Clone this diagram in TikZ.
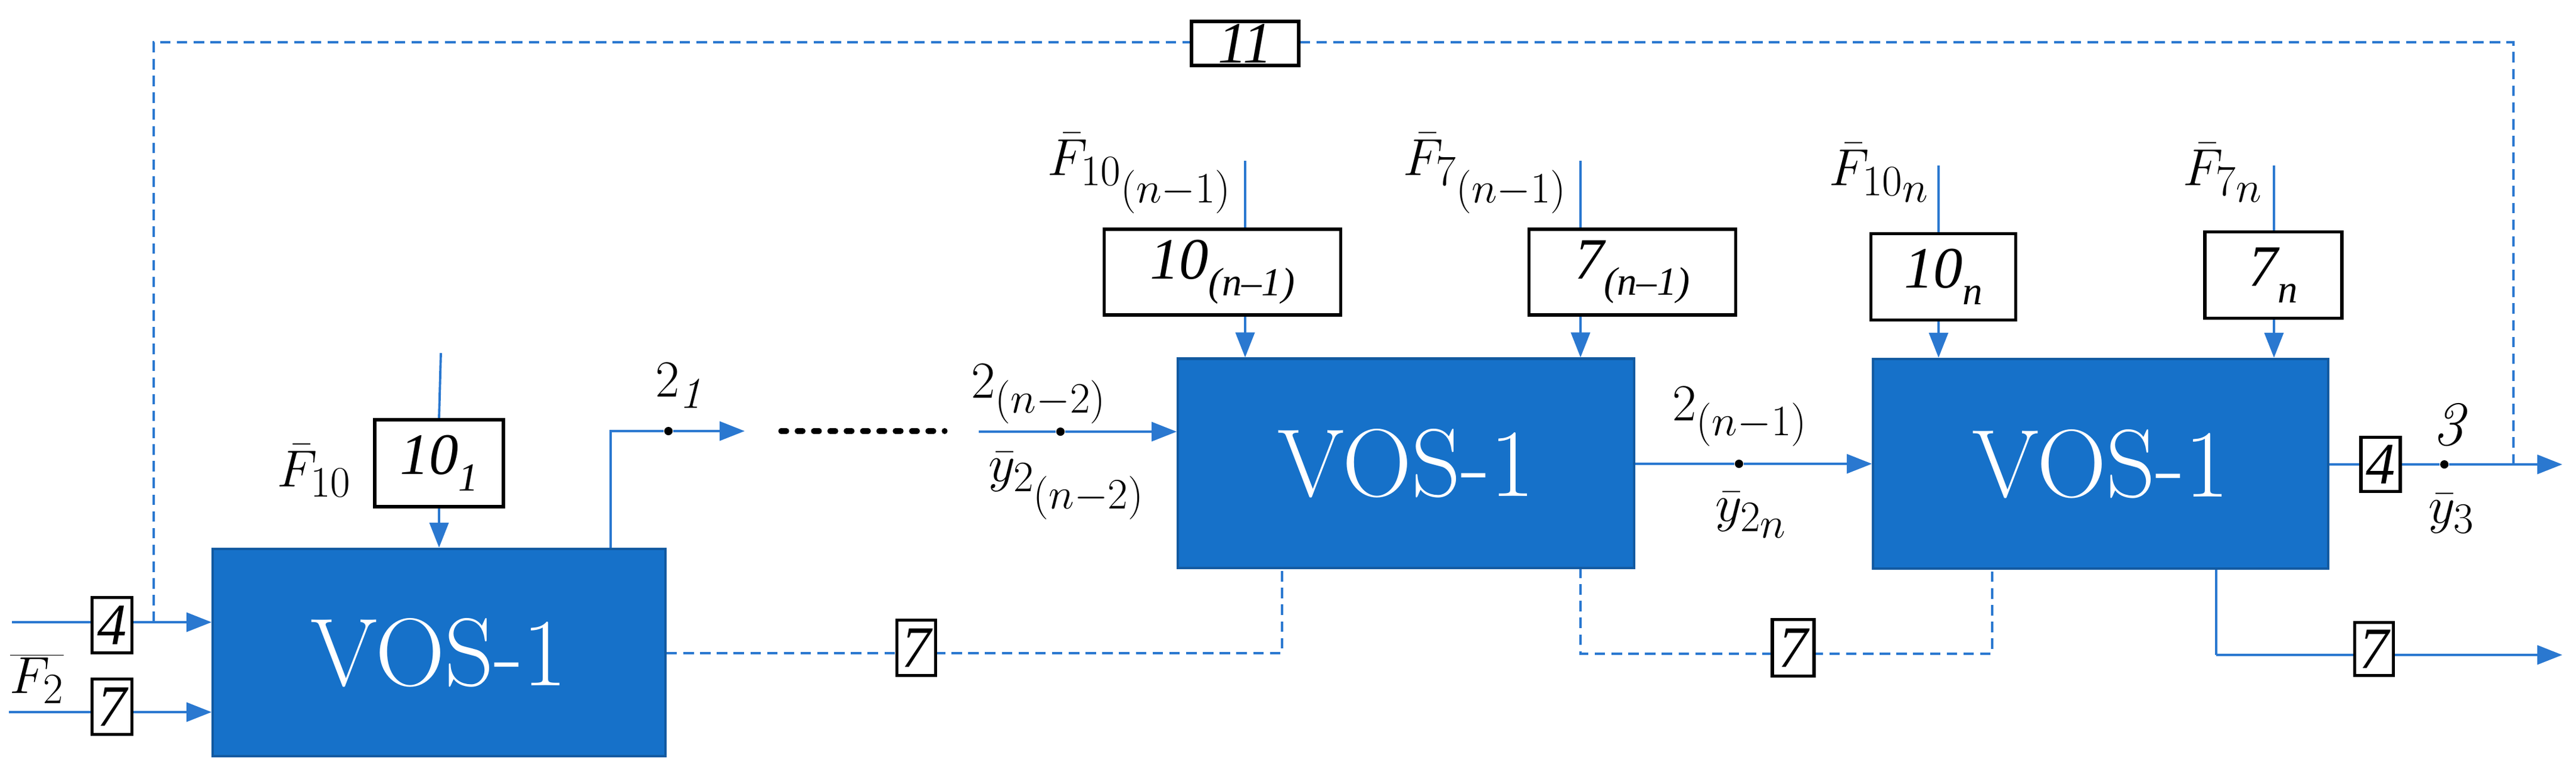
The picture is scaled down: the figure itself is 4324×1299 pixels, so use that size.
\documentclass[tikz,border=0pt]{standalone}
\usepackage{fontspec}
\newfontfamily\tagfont{Liberation Serif}
\usetikzlibrary{arrows.meta,backgrounds}
\definecolor{vblue}{HTML}{1671C9}
\definecolor{lblue}{HTML}{2A78D0}
\newcommand{\tsub}[1]{\raisebox{-0.28em}{\fontsize{19}{20}\selectfont #1}}
\begin{document}
\begin{tikzpicture}[x=0.01cm,y=-0.01cm,
  vos/.style={draw=vblue!80!black,line width=1.2pt,fill=vblue,text=white,inner sep=0pt,font=\fontsize{46}{50}\selectfont},
  tag/.style={draw=black,line width=1.6pt,fill=white,inner sep=0pt,font=\fontsize{28}{30}\selectfont\tagfont\itshape},
  lab/.style={inner sep=0pt,font=\fontsize{30}{32}\selectfont},
  fl/.style={draw=lblue,line width=1.1pt},
  arr/.style={fl,-{Triangle[length=0.42cm,width=0.32cm]}},
  dsh/.style={fl,dashed,dash pattern=on 5pt off 3pt},
  dot/.style={circle,fill=black,inner sep=0pt,minimum size=0.14cm}]
\useasboundingbox (0,0) rectangle (4324,1299);
% boxes
\node[vos,minimum width=7.59cm,minimum height=3.48cm] (v1) at (737,1096) {VOS-1};
\node[vos,minimum width=7.65cm,minimum height=3.51cm] (v2) at (2360,778) {VOS-1};
\node[vos,minimum width=7.63cm,minimum height=3.52cm] (v3) at (3526,779) {VOS-1};
% tags
\node[tag,minimum width=0.67cm,minimum height=0.93cm] (t4a) at (188,1050) {4};
\node[tag,minimum width=0.67cm,minimum height=0.93cm] (t7a) at (188,1187) {7};
\node[tag,minimum width=2.16cm,minimum height=1.46cm] (t101) at (737,778) {10\tsub{1}};
\node[tag,minimum width=0.65cm,minimum height=0.93cm] (t7b) at (1538,1088) {7};
\node[tag,minimum width=0.70cm,minimum height=0.95cm] (t7c) at (3010,1088) {7};
\node[tag,minimum width=3.97cm,minimum height=1.44cm] (t10m) at (2052,457) {10\tsub{(n–1)}};
\node[tag,minimum width=3.47cm,minimum height=1.44cm] (t7m) at (2740,457) {7\tsub{(n–1)}};
\node[tag,minimum width=2.43cm,minimum height=1.45cm] (t10n) at (3262,465) {10\tsub{n}};
\node[tag,minimum width=2.30cm,minimum height=1.45cm] (t7n) at (3816,462) {7\tsub{n}};
\node[tag,minimum width=0.66cm,minimum height=0.91cm] (t4b) at (3996,780) {4};
\node[tag,minimum width=0.65cm,minimum height=0.89cm] (t7d) at (3985,1090) {7};
\node[tag,minimum width=1.80cm,minimum height=0.74cm] (t11) at (2090,73) {11};
% dots
\node[dot] (d1) at (1122,724) {};
\node[dot] (d2) at (1780,725) {};
\node[dot] (d3) at (2919,779) {};
\node[dot] (d4) at (4103,780) {};
% coordinates
\coordinate (in4) at (20,1045);
\coordinate (in7) at (15,1196);
\coordinate (fb) at (258,1045);
\coordinate (fbt) at (258,71);
\coordinate (frt) at (4219,71);
\coordinate (fr) at (4219,780);
\coordinate (o3) at (4301,780);
\coordinate (o7) at (4301,1100);
\coordinate (s101) at (740,593);
\coordinate (s10m) at (2090,270);
\coordinate (s7m) at (2653,270);
\coordinate (s10n) at (3254,278);
\coordinate (s7n) at (3817,278);
\coordinate (up1) at (1025,724);
\coordinate (e1) at (1250,724);
\coordinate (dots1) at (1311,724);
\coordinate (dots2) at (1586,724);
\coordinate (st2) at (1643,725);
\begin{scope}[on background layer]
\draw[arr] (in4) -- (v1.west |- in4);
\draw[arr] (in7) -- (v1.west |- in7);
\draw[dsh] (fb) -- (fbt) -- (frt) -- (fr);
\draw[fl] (s101) -- (t101.north);
\draw[arr] (t101.south) -- (v1.north -| t101);
\draw[fl] (v1.north -| up1) -- (up1) -- (d1);
\draw[arr] (d1) -- (e1);
\draw[black,line width=2.6pt,dash pattern=on 2.6pt off 5.2pt,line cap=round] (dots1) -- (dots2);
\draw[fl] (st2) -- (d2);
\draw[arr] (d2) -- (v2.west |- d2);
\draw[fl] (s10m) -- (s10m |- t10m.north);
\draw[arr] (s10m |- t10m.south) -- (s10m |- v2.north);
\draw[fl] (s7m) -- (s7m |- t7m.north);
\draw[arr] (s7m |- t7m.south) -- (s7m |- v2.north);
\draw[fl] (v2.east |- d3) -- (d3);
\draw[arr] (d3) -- (v3.west |- d3);
\draw[fl] (s10n) -- (s10n |- t10n.north);
\draw[arr] (s10n |- t10n.south) -- (s10n |- v3.north);
\draw[fl] (s7n) -- (s7n |- t7n.north);
\draw[arr] (s7n |- t7n.south) -- (s7n |- v3.north);
\draw[fl] (v3.east |- d4) -- (d4);
\draw[arr] (d4) -- (o3);
\draw[dsh] (v1.east |- 0,1097) -- (2152,1097) -- (2152,953);
\draw[dsh] (2653,953) -- (2653,1098) -- (3344,1098) -- (3344,955);
\draw[fl] (3720,955) -- (3720,1100);
\draw[arr] (3720,1100) -- (o7);
\end{scope}
% labels
\node[lab] (lF2) at (62,1140) {$\overline{F_2}$};
\node[lab] (lF10) at (528,790) {$\bar F_{10}$};
\node[lab] (l21) at (1140,648) {$2_{\mathit{1}}$};
\node[lab] (l2n2) at (1744,662) {$2_{(n-2)}$};
\node[lab] (ly2n2) at (1791,816) {$\bar y_{2_{\scriptstyle (n-2)}}$};
\node[lab,anchor=east] (lF10m) at (2070,291) {$\bar F_{10_{\scriptstyle (n-1)}}$};
\node[lab,anchor=east] (lF7m) at (2633,291) {$\bar F_{7_{\scriptstyle (n-1)}}$};
\node[lab] (l2n1) at (2921,700) {$2_{(n-1)}$};
\node[lab] (ly2n) at (2940,865) {$\bar y_{2_{\scriptstyle n}}$};
\node[lab,anchor=east] (lF10n) at (3240,290) {$\bar F_{10_{\scriptstyle n}}$};
\node[lab,anchor=east] (lF7n) at (3800,290) {$\bar F_{7_{\scriptstyle n}}$};
\node[lab] (l3) at (4110,714) {$\mathit{3}$};
\node[lab] (ly3) at (4115,863) {$\bar y_3$};
\end{tikzpicture}
\end{document}
